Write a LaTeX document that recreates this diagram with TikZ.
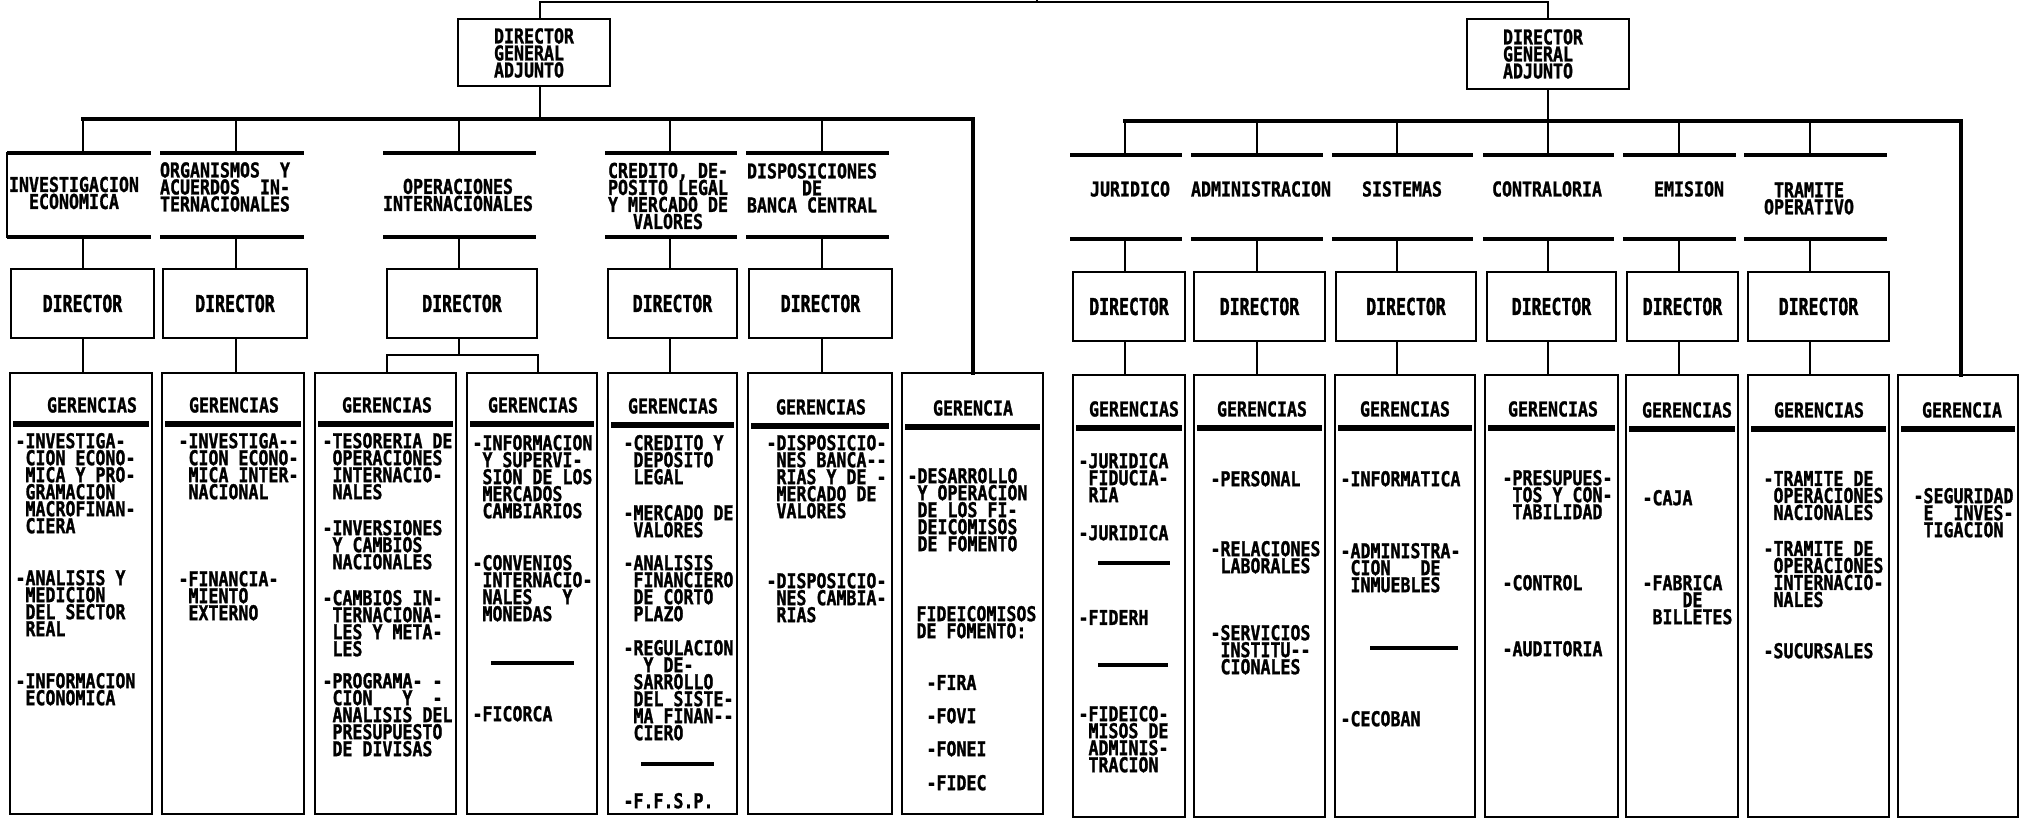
\documentclass[tikz,border=0pt]{standalone}
\usepackage{fontspec}
\newfontfamily\orgfont[FakeStretch=0.81,FakeBold=1.2]{DejaVu Sans Mono}
\newfontfamily\orgdirfont[FakeStretch=0.71,FakeBold=1.4]{DejaVu Sans Mono}
\newcommand\orgtxt{\orgfont\bfseries\fontsize{8.2pt}{6.8pt}\selectfont\lineskiplimit=-8pt\relax}
\newcommand\orgdir{\orgdirfont\bfseries\fontsize{9.3pt}{9pt}\selectfont}
\newcommand\Sp{\hphantom{-}}
\tikzset{
 orgbox/.style={draw, line width=1.15pt, inner sep=0pt, outer sep=0pt, anchor=north west},
 orghdr/.style={inner sep=0pt, outer sep=0pt, anchor=north west},
 hline/.style={line width=1.7pt},
 conn/.style={line width=1.1pt, line cap=rect},
 busline/.style={line width=1.35pt, line cap=rect},
 ttl/.style={font=\orgtxt, inner sep=0pt, align=center},
 itm/.style={font=\orgtxt, inner sep=0pt, align=left, anchor=north west},
 dtxt/.style={font=\orgdir, inner sep=0pt},
 bar/.style={line width=2.3pt},
 sepline/.style={line width=1.4pt},
}
% box: name x1 y1 x2 y2
\newcommand\Bx[5]{\node[orgbox, minimum width={(#4-#2)*0.4pt}, minimum height={(#5-#3)*0.4pt}] (#1) at (#2,#3) {};}
% header: name x1 y1 x2 y2
\newcommand\Hd[5]{\node[orghdr, minimum width={(#4-#2)*0.4pt}, minimum height={(#5-#3)*0.4pt}] (#1) at (#2,#3) {};
 \draw[hline] (#1.north west) -- (#1.north east) (#1.south west) -- (#1.south east);}
% gerencias box: name x1 y1 x2 y2 titlex titley title
\newcommand\Gr[8]{\node[orgbox, minimum width={(#4-#2)*0.4pt}, minimum height={(#5-#3)*0.4pt}] (#1) at (#2,#3) {};
 \node[ttl] (#1t) at (#6,#7) {#8};
 \draw[bar] ({#2+3},{#7+19}) -- ({#4-3},{#7+19});}
% director: name x1 y1 x2 y2
\newcommand\Dr[5]{\Bx{#1}{#2}{#3}{#4}{#5}\node[dtxt] (#1t) at (#1) {DIRECTOR};}
% column connectors: junction header director gerencias
\newcommand\Col[4]{\draw[conn] (#1) -- (#1 |- #2.north) (#1 |- #2.south) -- (#1 |- #3.north) (#1 |- #3.south) -- (#1 |- #4.north);}
\begin{document}
\begin{tikzpicture}[x=0.4pt,y=-0.4pt]
\fill[white] (0,0) rectangle (2026,819);
\useasboundingbox (0,0) rectangle (2026,819);

% ---------------- top level ----------------
\Bx{dga1}{458}{19}{610}{86}
\node[ttl, align=left] (dga1t) at (534,53) {DIRECTOR\\GENERAL\\ADJUNTO};
\Bx{dga2}{1467}{19}{1629}{89}
\node[ttl, align=left] (dga2t) at (1543,54) {DIRECTOR\\GENERAL\\ADJUNTO};

% ---------------- left headers ----------------
\Hd{h1}{7}{153}{151}{237}
\draw[conn] (h1.north west) -- (h1.south west);
\node[ttl] (h1t) at (74,193) {INVESTIGACION\\ECONOMICA};
\Hd{h2}{160}{153}{304}{237}
\node[ttl, align=left] (h2t) at (225,187) {ORGANISMOS\Sp\Sp Y\\ACUERDOS\Sp\Sp IN-\\TERNACIONALES};
\Hd{h3}{383}{153}{536}{237}
\node[ttl] (h3t) at (458,195) {OPERACIONES\\INTERNACIONALES};
\Hd{h4}{605}{153}{737}{237}
\node[ttl] (h4t) at (668,196) {CREDITO, DE-\\POSITO LEGAL\\Y MERCADO DE\\VALORES};
\Hd{h5}{746}{153}{889}{237}
\node[ttl] (h5t) at (812,188) {DISPOSICIONES\\DE\\BANCA CENTRAL};

% ---------------- right headers ----------------
\Hd{hj}{1070}{155}{1182}{239}
\node[ttl] (hjt) at (1130,189) {JURIDICO};
\Hd{ha}{1191}{155}{1323}{239}
\node[ttl] (hat) at (1261,189) {ADMINISTRACION};
\Hd{hs}{1332}{155}{1473}{239}
\node[ttl] (hst) at (1402,189) {SISTEMAS};
\Hd{hc}{1483}{155}{1614}{239}
\node[ttl] (hct) at (1547,189) {CONTRALORIA};
\Hd{he}{1623}{155}{1736}{239}
\node[ttl] (het) at (1689,189) {EMISION};
\Hd{ht}{1744}{155}{1887}{239}
\node[ttl] (htt) at (1809,198.5) {TRAMITE\\OPERATIVO};

% ---------------- directors ----------------
\Dr{d1}{11}{269}{154}{338}
\Dr{d2}{163}{269}{307}{338}
\Dr{d3}{387}{269}{537}{338}
\Dr{d4}{608}{269}{737}{338}
\Dr{d5}{749}{269}{892}{338}
\Dr{dj}{1073}{272}{1185}{341}
\Dr{da}{1194}{272}{1325}{341}
\Dr{ds}{1336}{272}{1476}{341}
\Dr{dc}{1487}{272}{1616}{341}
\Dr{de}{1627}{272}{1738}{341}
\Dr{dt}{1748}{272}{1889}{341}

% ---------------- gerencias boxes ----------------
\Gr{g1}{10}{373}{152}{814}{92}{405}{GERENCIAS}
\Gr{g2}{162}{373}{304}{814}{234}{405}{GERENCIAS}
\Gr{g3}{315}{373}{456}{814}{387}{405}{GERENCIAS}
\Gr{g4}{467}{373}{597}{814}{533}{405}{GERENCIAS}
\Gr{g5}{608}{373}{737}{814}{673}{406}{GERENCIAS}
\Gr{g6}{748}{373}{892}{814}{821}{407}{GERENCIAS}
\Gr{g7}{902}{373}{1043}{814}{973}{408}{GERENCIA}
\Gr{gj}{1073}{375}{1185}{817}{1134}{409}{GERENCIAS}
\Gr{ga}{1194}{375}{1325}{817}{1262}{409}{GERENCIAS}
\Gr{gs}{1335}{375}{1475}{817}{1405}{409}{GERENCIAS}
\Gr{gc}{1485}{375}{1618}{817}{1553}{409}{GERENCIAS}
\Gr{ge}{1626}{375}{1738}{817}{1687}{410}{GERENCIAS}
\Gr{gt}{1748}{375}{1889}{817}{1819}{410}{GERENCIAS}
\Gr{gg}{1898}{375}{2018}{817}{1962}{410}{GERENCIA}

% ---------------- gerencias contents (left) ----------------
\node[itm] (g1a) at (15,432.5) {-INVESTIGA-\\\Sp CION ECONO-\\\Sp MICA Y PRO-\\\Sp GRAMACION\\\Sp MACROFINAN-\\\Sp CIERA};
\node[itm] (g1b) at (15,569.5) {-ANALISIS Y\\\Sp MEDICION\\\Sp DEL SECTOR\\\Sp REAL};
\node[itm] (g1c) at (15,672.5) {-INFORMACION\\\Sp ECONOMICA};

\node[itm] (g2a) at (178,432.5) {-INVESTIGA-{}-\\\Sp CION ECONO-\\\Sp MICA INTER-\\\Sp NACIONAL};
\node[itm] (g2b) at (178,570.5) {-FINANCIA-\\\Sp MIENTO\\\Sp EXTERNO};

\node[itm] (g3a) at (322,432.5) {-TESORERIA DE\\\Sp OPERACIONES\\\Sp INTERNACIO-\\\Sp NALES};
\node[itm] (g3b) at (322,519.5) {-INVERSIONES\\\Sp Y CAMBIOS\\\Sp NACIONALES};
\node[itm] (g3c) at (322,589.5) {-CAMBIOS IN-\\\Sp TERNACIONA-\\\Sp LES Y META-\\\Sp LES};
\node[itm] (g3d) at (322,672.5) {-PROGRAMA-\Sp-\\\Sp CION\Sp\Sp\Sp Y\Sp\Sp-\\\Sp ANALISIS DEL\\\Sp PRESUPUESTO\\\Sp DE DIVISAS};

\node[itm] (g4a) at (472,434.5) {-INFORMACION\\\Sp Y SUPERVI-\\\Sp SION DE LOS\\\Sp MERCADOS\\\Sp CAMBIARIOS};
\node[itm] (g4b) at (472,554.5) {-CONVENIOS\\\Sp INTERNACIO-\\\Sp NALES\Sp\Sp\Sp Y\\\Sp MONEDAS};
\draw[sepline] (491,663) -- (574,663);
\node[itm] (g4c) at (472,705.5) {-FICORCA};

\node[itm] (g5a) at (623,434.5) {-CREDITO Y\\\Sp DEPOSITO\\\Sp LEGAL};
\node[itm] (g5b) at (623,504.5) {-MERCADO DE\\\Sp VALORES};
\node[itm] (g5c) at (623,554.5) {-ANALISIS\\\Sp FINANCIERO\\\Sp DE CORTO\\\Sp PLAZO};
\node[itm] (g5d) at (623,639.5) {-REGULACION\\\Sp\Sp Y DE-\\\Sp SARROLLO\\\Sp DEL SISTE-\\\Sp MA FINAN-{}-\\\Sp CIERO};
\draw[sepline] (641,764) -- (714,764);
\node[itm] (g5e) at (623,792.5) {-F.F.S.P.};

\node[itm] (g6a) at (766,434.5) {-DISPOSICIO-\\\Sp NES BANCA-{}-\\\Sp RIAS Y DE -\\\Sp MERCADO DE\\\Sp VALORES};
\node[itm] (g6b) at (766,572.5) {-DISPOSICIO-\\\Sp NES CAMBIA-\\\Sp RIAS};

\node[itm] (g7a) at (907,467.5) {-DESARROLLO\\\Sp Y OPERACION\\\Sp DE LOS FI-\\\Sp DEICOMISOS\\\Sp DE FOMENTO};
\node[itm] (g7b) at (916,605.5) {FIDEICOMISOS\\DE FOMENTO:};
\node[itm] (g7c) at (926,674.5) {-FIRA};
\node[itm] (g7d) at (926,707.5) {-FOVI};
\node[itm] (g7e) at (926,740.5) {-FONEI};
\node[itm] (g7f) at (926,774.5) {-FIDEC};

% ---------------- gerencias contents (right) ----------------
\node[itm] (gja) at (1078,452.5) {-JURIDICA\\\Sp FIDUCIA-\\\Sp RIA};
\node[itm] (gjb) at (1078,524.5) {-JURIDICA};
\draw[sepline] (1098,563) -- (1170,563);
\node[itm] (gjc) at (1078,609.5) {-FIDERH};
\draw[sepline] (1098,665) -- (1168,665);
\node[itm] (gjd) at (1078,705.5) {-FIDEICO-\\\Sp MISOS DE\\\Sp ADMINIS-\\\Sp TRACION};

\node[itm] (gaa) at (1210,470.5) {-PERSONAL};
\node[itm] (gab) at (1210,540.5) {-RELACIONES\\\Sp LABORALES};
\node[itm] (gac) at (1210,624.5) {-SERVICIOS\\\Sp INSTITU-{}-\\\Sp CIONALES};

\node[itm] (gsa) at (1340,470.5) {-INFORMATICA};
\node[itm] (gsb) at (1340,542.5) {-ADMINISTRA-\\\Sp CION\Sp\Sp\Sp DE\\\Sp INMUEBLES};
\draw[sepline] (1370,648) -- (1458,648);
\node[itm] (gsc) at (1340,710.5) {-CECOBAN};

\node[itm] (gca) at (1502,469.5) {-PRESUPUES-\\\Sp TOS Y CON-\\\Sp TABILIDAD};
\node[itm] (gcb) at (1502,574.5) {-CONTROL};
\node[itm] (gcc) at (1502,640.5) {-AUDITORIA};

\node[itm] (gea) at (1642,489.5) {-CAJA};
\node[itm] (geb) at (1642,574.5) {-FABRICA\\\Sp\Sp\Sp\Sp DE\\\Sp BILLETES};

\node[itm] (gta) at (1763,470.5) {-TRAMITE DE\\\Sp OPERACIONES\\\Sp NACIONALES};
\node[itm] (gtb) at (1763,540.5) {-TRAMITE DE\\\Sp OPERACIONES\\\Sp INTERNACIO-\\\Sp NALES};
\node[itm] (gtc) at (1763,642.5) {-SUCURSALES};

\node[itm] (gga) at (1913,487.5) {-SEGURIDAD\\\Sp E\Sp\Sp INVES-\\\Sp TIGACION};

% ---------------- connectors ----------------
\coordinate (ts) at (1037,0);
\coordinate (t1) at (540,2);
\coordinate (t2) at (1548,2);
\draw[conn] (t1 |- dga1.north) -- (t1) -- (t2) -- (t2 |- dga2.north);
\draw[conn] (ts) -- (ts |- t1);

% left bus
\coordinate (j1) at (83,119);
\coordinate (j2) at (236,119);
\coordinate (j3) at (459,119);
\coordinate (j4) at (670,119);
\coordinate (j5) at (822,119);
\coordinate (j7) at (973,119);
\coordinate (jd) at (540,119);
\draw[busline] (j1) -- (j7) -- (j7 |- g7.north);
\draw[conn] (t1 |- dga1.south) -- (jd);
\Col{j1}{h1}{d1}{g1}
\Col{j2}{h2}{d2}{g2}
\Col{j4}{h4}{d4}{g5}
\Col{j5}{h5}{d5}{g6}
\coordinate (opm) at (459,355);
\coordinate (opl) at (387,355);
\coordinate (opr) at (538,355);
\draw[conn] (j3) -- (j3 |- h3.north) (j3 |- h3.south) -- (j3 |- d3.north) (j3 |- d3.south) -- (opm);
\draw[conn] (opl |- g3.north) -- (opl) -- (opr) -- (opr |- g4.north);

% right bus
\coordinate (k1) at (1125,121);
\coordinate (k2) at (1257,121);
\coordinate (k3) at (1397,121);
\coordinate (k4) at (1548,121);
\coordinate (k5) at (1679,121);
\coordinate (k6) at (1810,121);
\coordinate (k7) at (1961,121);
\draw[busline] (k1) -- (k7) -- (k7 |- gg.north);
\draw[conn] (t2 |- dga2.south) -- (k4);
\Col{k1}{hj}{dj}{gj}
\Col{k2}{ha}{da}{ga}
\Col{k3}{hs}{ds}{gs}
\Col{k4}{hc}{dc}{gc}
\Col{k5}{he}{de}{ge}
\Col{k6}{ht}{dt}{gt}
\end{tikzpicture}
\end{document}
